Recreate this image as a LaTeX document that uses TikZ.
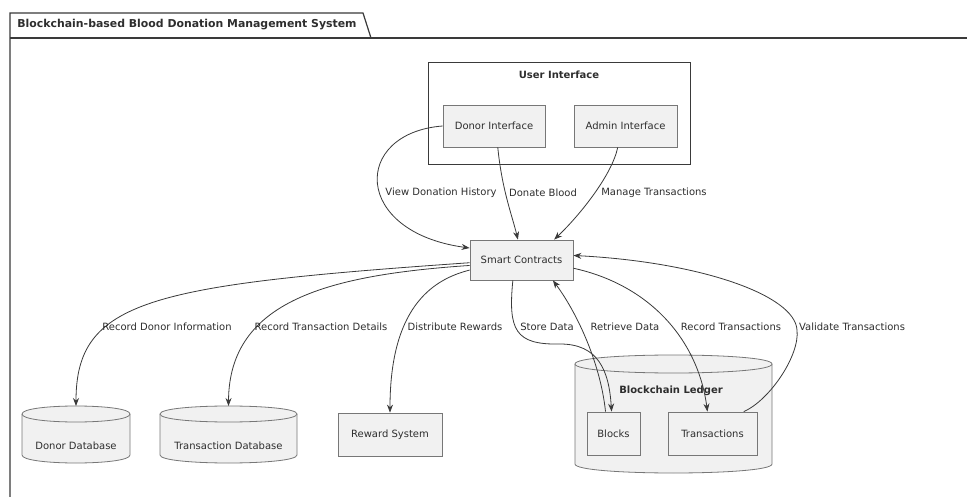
\documentclass[tikz,border=0pt]{standalone}
\usepackage{fontspec}
\setmainfont{DejaVu Sans}
\usetikzlibrary{arrows.meta,calc}
\definecolor{boxfill}{HTML}{F1F1F1}
\definecolor{boxline}{HTML}{777777}
\definecolor{lineclr}{HTML}{3A3A3A}
\definecolor{txt}{HTML}{2E2E2E}
\newcommand\dbcyl[5]{% x1, top, x2, bottom, ry
  \filldraw[db] (#1,#2+#5) -- (#1,#4-#5) .. controls (#1,#4+#5/3) and (#3,#4+#5/3) .. (#3,#4-#5)
    -- (#3,#2+#5) .. controls (#3,#2-#5/3) and (#1,#2-#5/3) .. (#1,#2+#5) -- cycle;
  \draw[db] (#1,#2+#5) .. controls (#1,#2+#5*7/3) and (#3,#2+#5*7/3) .. (#3,#2+#5);
}
\begin{document}
\begin{tikzpicture}[x=1pt,y=-1pt,
  font=\fontsize{10}{12}\selectfont,
  every node/.style={text=txt},
  box/.style={draw=boxline, fill=boxfill, line width=0.8pt, inner sep=0pt, align=center},
  anchorbox/.style={inner sep=0pt, outer sep=0pt},
  db/.style={draw=boxline, fill=boxfill, line width=0.8pt},
  frameline/.style={draw=lineclr, line width=1.2pt},
  conn/.style={draw=lineclr, line width=0.8pt, -{Stealth[length=8pt,width=6pt]}},
  lbl/.style={inner sep=1pt}]
\useasboundingbox (0,0) rectangle (967,497);
\fill[white] (0,0) rectangle (967,497);

% package frame
\draw[frameline] (10,497) -- (10,13) -- (363,13) -- (371,38);
\draw[frameline] (10,38) -- (967,38);
\node[font=\fontsize{10.9}{12}\selectfont\bfseries] (title) at (187,25) {Blockchain-based Blood Donation Management System};

% user interface group
\node[draw=lineclr, line width=1pt, minimum width=262pt, minimum height=102pt, inner sep=0pt] (ui) at (559,114) {};
\node[font=\fontsize{10}{12}\selectfont\bfseries] (uil) at (559,75) {User Interface};
\node[box, minimum width=102pt, minimum height=42pt] (donor) at (494,126) {Donor Interface};
\node[box, minimum width=103pt, minimum height=42pt] (admin) at (625.5,126) {Admin Interface};

% smart contracts
\node[box, minimum width=103pt, minimum height=40pt] (smart) at (521.5,260) {Smart Contracts};

% databases
\dbcyl{22}{406}{130}{463}{8}
\node[anchorbox, minimum width=108pt, minimum height=57pt] (ddb) at (76,434.5) {};
\node (ddbl) at (76,446) {Donor Database};
\dbcyl{160}{406}{297}{463}{8}
\node[anchorbox, minimum width=137pt, minimum height=57pt] (tdb) at (228.5,434.5) {};
\node (tdbl) at (228.5,446) {Transaction Database};

\node[box, minimum width=104pt, minimum height=43pt] (reward) at (390,434.5) {Reward System};

% blockchain ledger
\dbcyl{575}{355}{772}{473}{9}
\node[anchorbox, minimum width=197pt, minimum height=118pt] (ledger) at (673.5,414) {};
\node[font=\fontsize{10}{12}\selectfont\bfseries] (ledgerl) at (671,391) {Blockchain Ledger};
\node[box, minimum width=53pt, minimum height=43pt] (blocks) at (613.5,433.5) {Blocks};
\node[box, minimum width=89pt, minimum height=43pt] (trans) at (712.5,433.5) {Transactions};

% connectors top
\draw[conn] (donor.west) .. controls (352,133) and (352,232) .. (smart.167);
\draw[conn] (donor.-80) .. controls (502,190) and (512,215) .. (smart.100);
\draw[conn] (admin.-110) .. controls (612,175) and (580,215) .. (smart.32);
\node[lbl] (l1) at (441,193) {View Donation History};
\node[lbl] (l2) at (543,193) {Donate Blood};
\node[lbl] (l3) at (654,193) {Manage Transactions};

% connectors bottom
\draw[conn] (smart.183) .. controls (150,285) and (76,300) .. (ddb.north);
\draw[conn] (smart.186) .. controls (330,275) and (229,300) .. (tdb.north);
\draw[conn] (smart.191) .. controls (430,280) and (390,310) .. (reward.north);
\draw[conn] (smart.-113) .. controls (508,330) and (515,345) .. (560,344)
   .. controls (598,344) and (609,370) .. (blocks.95);
\draw[conn] (blocks.110) .. controls (600,360) and (575,310) .. (smart.-33);
\draw[conn] (smart.-9) .. controls (650,285) and (698,340) .. (trans.103);
\draw[conn] (trans.35) .. controls (770,400) and (800,355) .. (797,330)
   .. controls (795,295) and (700,262) .. (smart.5);
\node[lbl] (l4) at (167,327) {Record Donor Information};
\node[lbl] (l5) at (321,327) {Record Transaction Details};
\node[lbl] (l6) at (455,327) {Distribute Rewards};
\node[lbl] (l7) at (547,327) {Store Data};
\node[lbl] (l8) at (625,327) {Retrieve Data};
\node[lbl] (l9) at (731,327) {Record Transactions};
\node[lbl] (l10) at (852,327) {Validate Transactions};
\end{tikzpicture}
\end{document}
